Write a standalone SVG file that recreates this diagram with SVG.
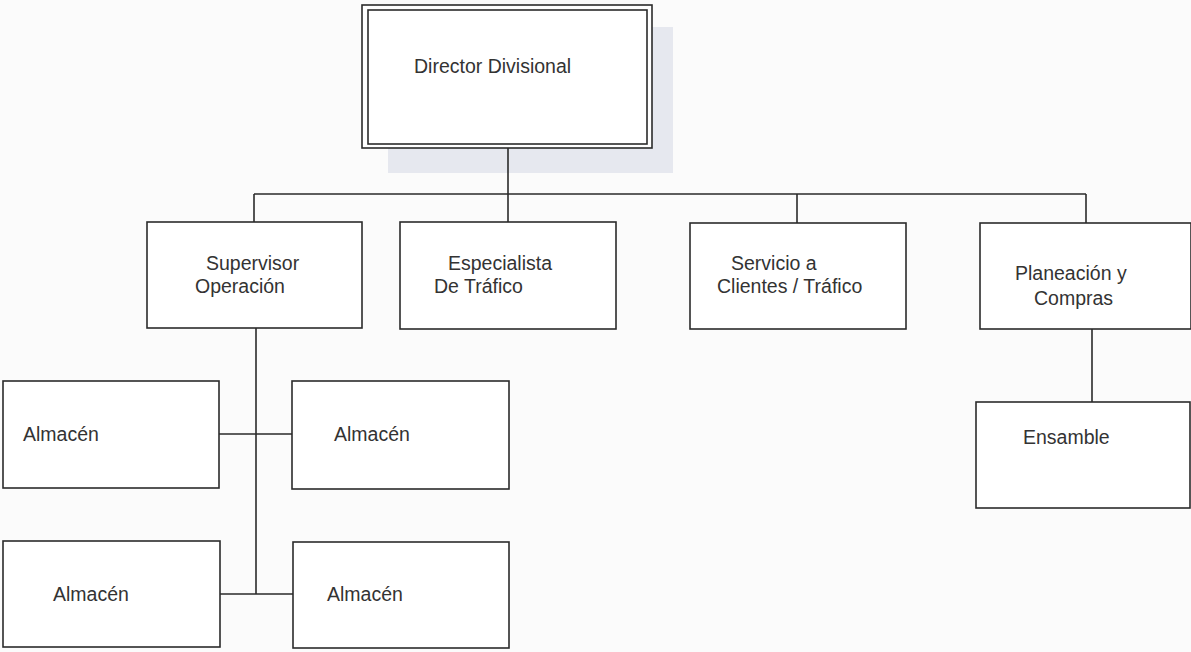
<svg xmlns="http://www.w3.org/2000/svg" width="1191" height="652" viewBox="0 0 1191 652">
<style>
.bx{fill:#ffffff;stroke:#2b2b2b;stroke-width:1.6}
.ln{fill:none;stroke:#2b2b2b;stroke-width:1.6}
text{font-family:"Liberation Sans",Arial,sans-serif;font-size:19.5px;fill:#333333}
</style>
<rect width="1191" height="652" fill="#fbfbfb"/>
<rect x="388" y="27" width="285" height="146" fill="#e6e8ef"/>
<g id="connectors">
<path class="ln" d="M508,148 V194 M254,194 H1086 M254,194 V222 M508,194 V222 M797,194 V223 M1086,194 V223"/>
<path class="ln" d="M256,328 V594 M219,434 H292 M220,594 H293"/>
<path class="ln" d="M1092,329 V402"/>
</g>
<g id="director">
<rect class="bx" x="362" y="5" width="290" height="143"/>
<rect class="ln" x="368" y="10" width="279" height="134"/>
<text x="414" y="73">Director Divisional</text>
</g>
<g id="supervisor">
<rect class="bx" x="147" y="222" width="215" height="106"/>
<text x="206" y="270">Supervisor</text>
<text x="195" y="293">Operación</text>
</g>
<g id="especialista">
<rect class="bx" x="400" y="222" width="216" height="107"/>
<text x="448" y="270">Especialista</text>
<text x="434" y="293">De Tráfico</text>
</g>
<g id="servicio">
<rect class="bx" x="690" y="223" width="216" height="106"/>
<text x="731" y="270">Servicio a</text>
<text x="717" y="293">Clientes / Tráfico</text>
</g>
<g id="planeacion">
<rect class="bx" x="980" y="223" width="211" height="106"/>
<text x="1015" y="280">Planeación y</text>
<text x="1034" y="305">Compras</text>
</g>
<g id="ensamble">
<rect class="bx" x="976" y="402" width="214" height="106"/>
<text x="1023" y="444">Ensamble</text>
</g>
<g id="almacen1">
<rect class="bx" x="3" y="381" width="216" height="107"/>
<text x="23" y="441">Almacén</text>
</g>
<g id="almacen2">
<rect class="bx" x="292" y="381" width="217" height="108"/>
<text x="334" y="441">Almacén</text>
</g>
<g id="almacen3">
<rect class="bx" x="3" y="541" width="217" height="106"/>
<text x="53" y="601">Almacén</text>
</g>
<g id="almacen4">
<rect class="bx" x="293" y="542" width="216" height="106"/>
<text x="327" y="601">Almacén</text>
</g>
</svg>
